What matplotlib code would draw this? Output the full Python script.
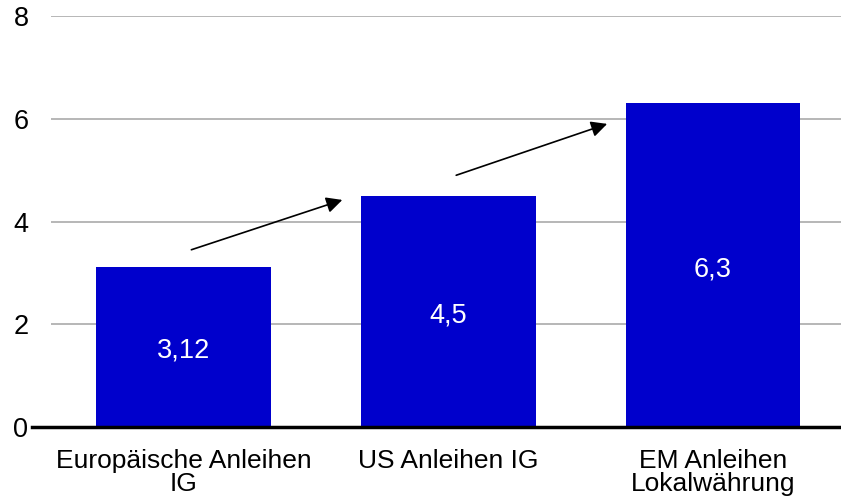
import matplotlib.pyplot as plt
import numpy as np

categories = ["Europäische Anleihen\nIG", "US Anleihen IG", "EM Anleihen\nLokalwährung"]
values = [3.12, 4.5, 6.3]
value_labels = ["3,12", "4,5", "6,3"]
yticks = [0, 2, 4, 6, 8]

# arrow start / end heights between neighbouring bars
arrow_from = [3.45, 4.9]
arrow_to = [4.42, 5.9]

plt.rcParams['font.family'] = ['Liberation Sans', 'DejaVu Sans']

fig = plt.figure(figsize=(8.41, 5.03), dpi=100)
ax = fig.add_axes([51 / 841, 1 - 427 / 503, 790 / 841, (427 - 16) / 503])

x = np.arange(len(categories))
ax.bar(x, values, width=0.66, color='#0000CC', zorder=3)

for i, (v, lab) in enumerate(zip(values, value_labels)):
    ax.text(i, v / 2 - 0.08, lab, color='white', fontsize=19.5,
            ha='center', va='center', zorder=4)

for i in range(len(arrow_from)):
    ax.annotate('', xy=(i + 0.6, arrow_to[i]), xytext=(i + 0.03, arrow_from[i]),
                arrowprops=dict(arrowstyle='-|>', mutation_scale=24, lw=1.2,
                                color='black', shrinkA=0, shrinkB=0),
                zorder=5)

ax.set_xlim(-0.5, 2.483)
ax.set_ylim(0, 8)
ax.set_yticks(yticks)
ax.set_xticks(x)
ax.set_xticklabels(categories, fontsize=19, linespacing=0.95)
ax.tick_params(axis='y', length=0, labelsize=19.5, pad=27)
ax.tick_params(axis='x', length=0, pad=16)
for lab in ax.get_yticklabels():
    lab.set_horizontalalignment('left')

ax.grid(axis='y', color='#aaaaaa', lw=1.2, zorder=0)
for s in ax.spines.values():
    s.set_visible(False)

ax.axhline(0, xmin=-19 / 790, xmax=1, color='black', lw=2.5, clip_on=False, zorder=6)

fig.savefig('out.png', dpi=100)
